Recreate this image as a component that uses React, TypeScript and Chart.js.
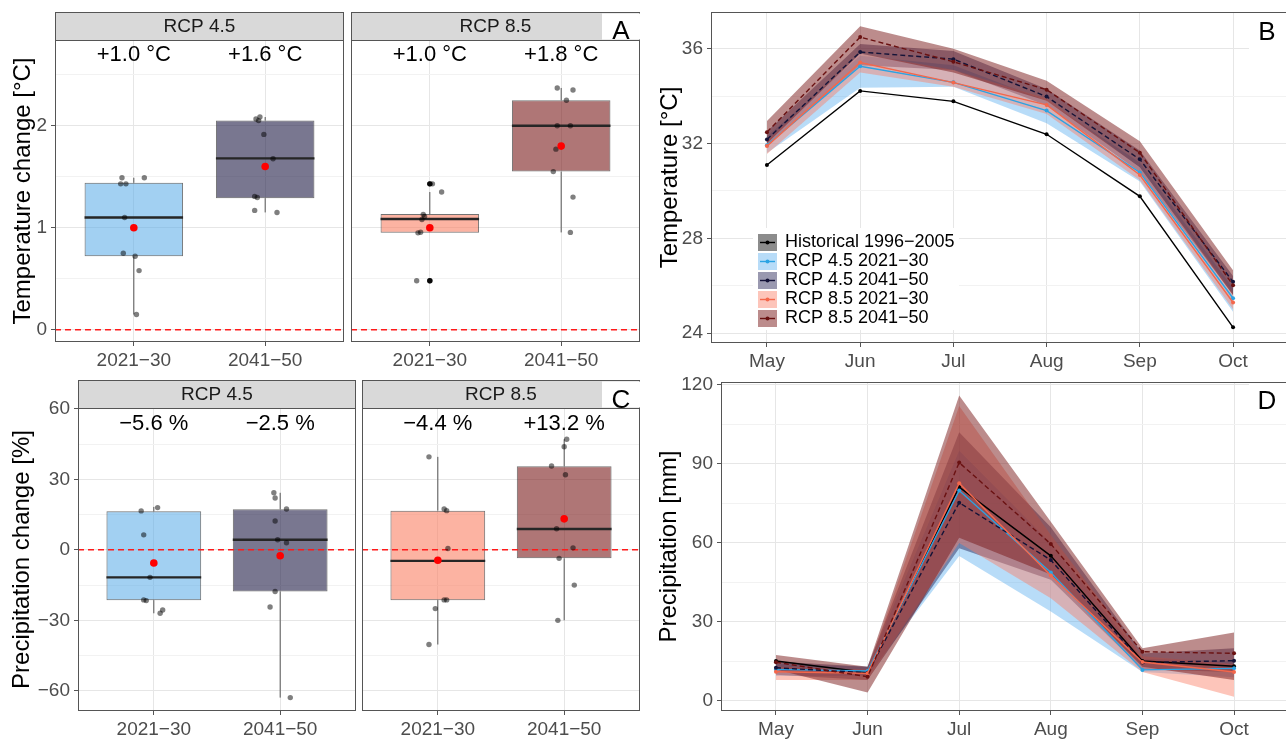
import React, { useEffect, useRef } from "react";
import { Chart, registerables } from "chart.js";
Chart.register(...registerables);

const FONT = '"Liberation Sans", Arial, Helvetica, sans-serif';
Chart.defaults.font.family = FONT;

// ---------------- DATA ----------------
const periods = ["2021\u221230", "2041\u221250"];
const months = ["May", "Jun", "Jul", "Aug", "Sep", "Oct"];
const seriesNames = [
  "Historical 1996\u22122005",
  "RCP 4.5 2021\u221230",
  "RCP 4.5 2041\u221250",
  "RCP 8.5 2021\u221230",
  "RCP 8.5 2041\u221250",
];

// Panel A: temperature change per model (°C) and jitter offsets
const tA45_2130 = [1.49, 1.49, 1.43, 1.43, 1.1, 0.75, 0.72, 0.58, 0.15];
const jA45_2130 = [-0.09, 0.08, -0.1, -0.06, -0.07, -0.08, 0.01, 0.04, 0.02];
const tA45_2041 = [2.065, 2.085, 2.05, 1.915, 1.676, 1.307, 1.297, 1.17, 1.15];
const jA45_2041 = [-0.07, -0.04, -0.05, -0.01, 0.06, -0.08, -0.06, -0.08, 0.09];
const tA85_2130 = [0.48, 0.48, 1.43, 1.43, 1.35, 1.13, 1.11, 1.08, 0.955, 0.95];
const jA85_2130 = [-0.1, 0.0, 0.0, 0.02, 0.09, -0.05, -0.04, -0.06, -0.07, -0.09];
const tA85_2041 = [2.37, 2.35, 2.25, 2.0, 2.0, 1.77, 1.55, 1.3, 0.954];
const jA85_2041 = [-0.03, 0.09, 0.04, 0.07, -0.03, -0.04, -0.06, 0.09, 0.07];
// box stats: [lower whisker, Q1, median, Q3, upper whisker]
const boxA45 = [[0.15, 0.72, 1.1, 1.44, 1.49], [1.15, 1.29, 1.68, 2.05, 2.085]];
const boxA85 = [[0.95, 0.95, 1.085, 1.134, 1.35], [0.954, 1.55, 2.0, 2.25, 2.37]];
const outA45 = [[], []];
const outA85 = [[0.48, 1.43], []];
const meanA45 = [1.0, 1.6];
const meanA85 = [1.0, 1.8];
const labA45 = ["+1.0 \u00b0C", "+1.6 \u00b0C"];
const labA85 = ["+1.0 \u00b0C", "+1.8 \u00b0C"];

// Panel C: precipitation change per model (%)
const pC45_2130 = [16.6, 18.0, 6.4, -11.7, -21.3, -21.6, -25.6, -27.0];
const jC45_2130 = [-0.1, 0.03, -0.08, -0.03, -0.08, -0.06, 0.07, 0.05];
const pC45_2041 = [24.3, 22.1, 17.4, 12.3, 4.3, 3.0, -17.7, -24.3, -62.9];
const jC45_2041 = [-0.05, -0.04, 0.05, -0.04, -0.02, 0.05, -0.04, -0.08, 0.08];
const pC85_2130 = [39.6, 17.4, 16.7, 0.6, -21.3, -21.3, -25.0, -40.3];
const jC85_2130 = [-0.07, 0.05, 0.07, 0.08, 0.05, 0.07, -0.02, -0.07];
const pC85_2041 = [47.1, 43.9, 35.7, 32.0, 9.0, 0.86, -3.6, -15.0, -30.0];
const jC85_2041 = [0.02, 0.0, -0.1, 0.01, -0.06, 0.07, -0.04, 0.08, -0.05];
const boxC45 = [[-27.0, -21.4, -11.7, 16.4, 18.3], [-62.9, -17.7, 4.3, 17.3, 24.3]];
const boxC85 = [[-40.3, -21.4, -4.7, 16.7, 39.6], [-30.0, -3.6, 8.9, 35.6, 47.1]];
const outC45 = [[], []];
const outC85 = [[], []];
const meanC45 = [-5.6, -2.5];
const meanC85 = [-4.4, 13.2];
const labC45 = ["\u22125.6 %", "\u22122.5 %"];
const labC85 = ["\u22124.4 %", "+13.2 %"];

// Panel B: monthly temperature (°C)
const tempHist = [31.09, 34.22, 33.78, 32.39, 29.77, 24.24];
const temp45_2130 = [31.93, 35.26, 34.58, 33.39, 30.78, 25.47];
const temp45_2130Lo = [31.6, 34.35, 34.4, 32.85, 30.4, 24.9];
const temp45_2130Hi = [32.3, 35.7, 35.3, 33.8, 31.2, 25.9];
const temp45_2041 = [32.17, 35.86, 35.56, 33.98, 31.33, 26.16];
const temp45_2041Lo = [31.9, 35.3, 35.1, 33.6, 30.8, 25.6];
const temp45_2041Hi = [32.5, 36.2, 35.9, 34.3, 31.7, 26.4];
const temp85_2130 = [31.89, 35.42, 34.57, 33.63, 30.67, 25.29];
const temp85_2130Lo = [31.55, 35.0, 34.4, 33.25, 30.45, 25.0];
const temp85_2130Hi = [32.1, 35.8, 35.1, 33.9, 31.0, 25.7];
const temp85_2041 = [32.48, 36.49, 35.45, 34.27, 31.61, 26.02];
const temp85_2041Lo = [32.0, 35.8, 35.0, 33.8, 31.0, 25.6];
const temp85_2041Hi = [32.95, 36.95, 36.0, 34.65, 32.1, 26.65];

// Panel D: monthly precipitation (mm)
const precHist = [15.2, 10.8, 81.2, 55.1, 15.2, 13.2];
const prec45_2130 = [12.0, 11.4, 79.9, 48.8, 11.8, 12.4];
const prec45_2130Lo = [9.5, 9.5, 55.0, 34.0, 11.0, 9.0];
const prec45_2130Hi = [14.0, 13.0, 95.0, 60.0, 16.0, 15.0];
const prec45_2041 = [12.6, 10.7, 75.3, 53.5, 14.6, 15.3];
const prec45_2041Lo = [10.0, 8.0, 58.0, 46.0, 12.0, 11.0];
const prec45_2041Hi = [15.0, 13.0, 102.0, 66.0, 18.0, 20.0];
const prec85_2130 = [11.1, 10.5, 82.7, 47.6, 14.8, 11.0];
const prec85_2130Lo = [8.0, 8.0, 60.0, 39.0, 11.0, 1.6];
const prec85_2130Hi = [13.0, 12.0, 112.0, 63.0, 17.0, 14.0];
const prec85_2041 = [14.7, 9.2, 90.5, 59.6, 18.7, 18.1];
const prec85_2041Lo = [12.0, 3.2, 62.0, 48.0, 13.0, 8.0];
const prec85_2041Hi = [17.5, 13.0, 116.0, 68.0, 20.0, 26.0];

// ---------------- STYLE ----------------
const GRID_MAJOR = "#E6E6E6";
const GRID_MINOR = "#F2F2F2";
const BORDER = "#555555";
const TICK_TXT = "#4D4D4D";
const BOX_W = 0.75;
const lineColors = ["#000000", "#2BA3E3", "#141338", "#F4674B", "#6A1111"];
const ribbonFills = [
  "rgba(0,0,0,0.45)",
  "rgba(77,168,238,0.40)",
  "rgba(31,29,79,0.45)",
  "rgba(250,127,101,0.45)",
  "rgba(122,26,26,0.50)",
];
const dashed = [false, false, true, false, true];
const boxFill45 = ["rgba(86,170,232,0.55)", "rgba(31,29,70,0.6)"];
const boxFill85 = ["rgba(250,128,100,0.6)", "rgba(122,26,26,0.6)"];

const minus = (s: string) => s.replace("-", "\u2212");

function gridOpts(majors: number[] | null, drawTicks: boolean) {
  const isMaj = (c: any) => !majors || (c.tick && majors.includes(c.tick.value));
  return {
    color: (c: any) => (isMaj(c) ? GRID_MAJOR : GRID_MINOR),
    tickColor: (c: any) => (isMaj(c) ? BORDER : "rgba(0,0,0,0)"),
    tickLength: 4,
    drawTicks,
    lineWidth: 1,
    offset: false,
  };
}

function yScale(o: any) {
  return {
    type: "linear",
    position: "left",
    min: o.min,
    max: o.max,
    afterBuildTicks: (s: any) => {
      s.ticks = o.ticks.map((v: number) => ({ value: v }));
    },
    afterFit: (s: any) => {
      s.width = o.width;
      s.paddingTop = 0;
      s.paddingBottom = 0;
    },
    ticks: {
      display: o.show,
      autoSkip: false,
      padding: 4,
      color: TICK_TXT,
      font: { size: 19 },
      callback: (v: number) => (o.majors.includes(v) ? minus(String(v)) : ""),
    },
    grid: gridOpts(o.majors, o.show),
    border: { display: false },
    title: o.title
      ? { display: true, text: o.title, color: "#000", font: { size: 24 }, padding: { top: o.titlePad, bottom: 0 } }
      : { display: false },
  };
}

function xScale(labels: string[], height: number) {
  return {
    type: "linear",
    min: 0.4,
    max: labels.length + 0.6,
    offset: false,
    afterBuildTicks: (s: any) => {
      s.ticks = labels.map((_, i) => ({ value: i + 1 }));
    },
    afterFit: (s: any) => {
      s.height = height;
      s.paddingLeft = 0;
      s.paddingRight = 0;
    },
    ticks: {
      autoSkip: false,
      maxRotation: 0,
      minRotation: 0,
      padding: 3,
      color: TICK_TXT,
      font: { size: 19 },
      callback: (v: number) => labels[v - 1] ?? "",
    },
    grid: gridOpts(null, true),
    border: { display: false },
  };
}

function baseOptions(pad: any, x: any, y: any) {
  return {
    responsive: false,
    animation: false,
    devicePixelRatio: 1,
    events: [],
    layout: { padding: pad, autoPadding: false },
    plugins: { legend: { display: false }, tooltip: { enabled: false } },
    scales: { x, y },
  };
}

function facetDecor(strip: string, labels: string[], letter: string | null, letterDy: number, labDy: number) {
  return {
    id: "facetDecor",
    afterDraw(chart: any) {
      const { ctx, chartArea: a, scales } = chart;
      ctx.save();
      ctx.textAlign = "center";
      ctx.textBaseline = "middle";
      ctx.fillStyle = "#000";
      ctx.font = `22px ${FONT}`;
      labels.forEach((t, i) => ctx.fillText(t, scales.x.getPixelForValue(i + 1), a.top + labDy));
      ctx.strokeStyle = BORDER;
      ctx.lineWidth = 1;
      ctx.strokeRect(a.left + 0.5, a.top + 0.5, a.right - a.left - 1, a.bottom - a.top - 1);
      ctx.fillStyle = "#D9D9D9";
      ctx.fillRect(a.left + 0.5, a.top - 27.5, a.right - a.left - 1, 28);
      ctx.strokeRect(a.left + 0.5, a.top - 27.5, a.right - a.left - 1, 28);
      ctx.fillStyle = "#1A1A1A";
      ctx.font = `19px ${FONT}`;
      ctx.fillText(strip, (a.left + a.right) / 2, a.top - 13.5);
      if (letter) {
        ctx.fillStyle = "#fff";
        ctx.fillRect(a.right - 38, a.top - 26.5, 41, 26);
        ctx.fillStyle = "#000";
        ctx.font = `26px ${FONT}`;
        ctx.fillText(letter, a.right - 19, a.top + letterDy);
      }
      ctx.restore();
    },
  };
}

function boxConfig(f: any) {
  const whisk: any[] = [];
  const med: any[] = [];
  f.box.forEach((s: number[], i: number) => {
    const x = i + 1;
    whisk.push({ x, y: s[0] }, { x, y: s[1] }, { x, y: null }, { x, y: s[3] }, { x, y: s[4] }, { x, y: null });
    med.push({ x: x - BOX_W / 2, y: s[2] }, { x: x + BOX_W / 2, y: s[2] }, { x: x + 0.5, y: null });
  });
  const pts: any[] = [];
  f.vals.forEach((arr: number[], i: number) => arr.forEach((v, j) => pts.push({ x: i + 1 + f.jit[i][j], y: v })));
  const outs: any[] = [];
  f.out.forEach((arr: number[], i: number) => arr.forEach((v) => outs.push({ x: i + 1, y: v })));
  const means = f.mean.map((v: number, i: number) => ({ x: i + 1, y: v }));
  return {
    type: "scatter",
    data: {
      datasets: [
        { type: "scatter", data: means, pointBackgroundColor: "#FF0000", pointRadius: 3.8, pointBorderWidth: 0, pointHoverRadius: 0, order: 0 },
        { type: "scatter", data: pts, pointBackgroundColor: "rgba(0,0,0,0.5)", pointRadius: 2.7, pointBorderWidth: 0, pointHoverRadius: 0, order: 1 },
        { type: "scatter", data: outs, pointBackgroundColor: "#111111", pointRadius: 2.7, pointBorderWidth: 0, pointHoverRadius: 0, order: 1 },
        { type: "line", data: med, borderColor: "#262626", borderWidth: 2.4, pointRadius: 0, showLine: true, spanGaps: false, fill: false, order: 2 },
        {
          type: "line",
          data: [{ x: 0.4, y: 0 }, { x: 2.6, y: 0 }],
          borderColor: "#FF1A1A",
          borderWidth: 1.5,
          borderDash: [6, 4],
          pointRadius: 0,
          showLine: true,
          fill: false,
          order: 2,
        },
        {
          type: "bar",
          data: f.box.map((s: number[], i: number) => ({ x: i + 1, y: [s[1], s[3]] })),
          backgroundColor: f.fills,
          borderColor: "rgba(40,40,40,0.65)",
          borderWidth: 1,
          borderSkipped: false,
          barPercentage: BOX_W,
          categoryPercentage: 1,
          order: 3,
        },
        { type: "line", data: whisk, borderColor: "#555555", borderWidth: 1, pointRadius: 0, showLine: true, spanGaps: false, fill: false, order: 4 },
      ],
    },
    options: baseOptions(f.pad, xScale(periods, f.xHeight), f.y),
    plugins: [facetDecor(f.strip, f.labels, f.letter, f.letterDy, f.labDy)],
  };
}

const toXY = (arr: number[]) => arr.map((v, i) => ({ x: i + 1, y: v }));

function lineDecor(letter: string, boxH: number, letterDy: number, legend: boolean) {
  return {
    id: "lineDecor",
    afterDraw(chart: any) {
      const { ctx, chartArea: a } = chart;
      ctx.save();
      ctx.fillStyle = "#fff";
      ctx.fillRect(a.right - 40, a.top + 1, 46, boxH);
      ctx.fillStyle = "#000";
      ctx.font = `26px ${FONT}`;
      ctx.textAlign = "center";
      ctx.textBaseline = "middle";
      ctx.fillText(letter, a.right - 22, a.top + letterDy);
      if (legend) {
        const x0 = a.left + 42;
        const y0 = a.top + 216;
        ctx.fillStyle = "#fff";
        ctx.fillRect(x0, y0, 206, 102);
        seriesNames.forEach((name, i) => {
          const cy = y0 + 14.5 + i * 19;
          ctx.fillStyle = ribbonFills[i];
          ctx.fillRect(x0 + 5, cy - 8.5, 19, 17);
          ctx.strokeStyle = lineColors[i];
          ctx.lineWidth = 1.4;
          ctx.beginPath();
          ctx.moveTo(x0 + 7, cy);
          ctx.lineTo(x0 + 22, cy);
          ctx.stroke();
          ctx.fillStyle = lineColors[i];
          ctx.beginPath();
          ctx.arc(x0 + 14.5, cy, 2, 0, Math.PI * 2);
          ctx.fill();
          ctx.fillStyle = "#000";
          ctx.font = `18px ${FONT}`;
          ctx.textAlign = "left";
          ctx.fillText(name, x0 + 32, cy);
        });
      }
      ctx.strokeStyle = BORDER;
      ctx.lineWidth = 1;
      ctx.strokeRect(a.left + 0.5, a.top + 0.5, a.right - a.left - 1, a.bottom - a.top - 1);
      ctx.restore();
    },
  };
}

function lineConfig(o: any) {
  const datasets: any[] = [];
  const ribbonOrder = [0, 14, 13, 12, 11];
  for (let k = 1; k < 5; k++) {
    datasets.push({
      type: "line",
      data: toXY(o.lo[k]),
      borderWidth: 0,
      borderColor: "rgba(0,0,0,0)",
      pointRadius: 0,
      showLine: true,
      fill: false,
      order: ribbonOrder[k],
    });
    datasets.push({
      type: "line",
      data: toXY(o.hi[k]),
      borderWidth: 0,
      borderColor: "rgba(0,0,0,0)",
      backgroundColor: ribbonFills[k],
      pointRadius: 0,
      showLine: true,
      fill: "-1",
      order: ribbonOrder[k],
    });
  }
  for (let k = 0; k < 5; k++) {
    datasets.push({
      type: "line",
      data: toXY(o.mean[k]),
      borderColor: lineColors[k],
      borderWidth: 1.4,
      borderDash: dashed[k] ? [5, 3] : [],
      pointRadius: 2,
      pointBackgroundColor: lineColors[k],
      pointBorderWidth: 0,
      pointHoverRadius: 0,
      showLine: true,
      fill: false,
      tension: 0,
      order: 5 - k,
    });
  }
  return {
    type: "scatter",
    data: { datasets },
    options: baseOptions(o.pad, xScale(months, o.xHeight), o.y),
    plugins: [lineDecor(o.letter, o.boxH, o.letterDy, o.legend)],
  };
}

// ---------------- CONFIGS ----------------
const cfgA45 = () =>
  boxConfig({
    box: boxA45, mean: meanA45, out: outA45, vals: [tA45_2130, tA45_2041], jit: [jA45_2130, jA45_2041],
    fills: boxFill45, labels: labA45, strip: "RCP 4.5", letter: null, letterDy: 0, labDy: 15,
    y: yScale({ min: -0.12, max: 2.84, ticks: [0, 0.5, 1, 1.5, 2, 2.5], majors: [0, 1, 2], width: 55, show: true, title: "Temperature change [\u00b0C]", titlePad: 8.6 }),
    xHeight: 33, pad: { top: 40, right: 3, left: 0, bottom: 0 },
  });
const cfgA85 = () =>
  boxConfig({
    box: boxA85, mean: meanA85, out: outA85, vals: [tA85_2130, tA85_2041], jit: [jA85_2130, jA85_2041],
    fills: boxFill85, labels: labA85, strip: "RCP 8.5", letter: "A", letterDy: -8, labDy: 15,
    y: yScale({ min: -0.12, max: 2.84, ticks: [0, 0.5, 1, 1.5, 2, 2.5], majors: [0, 1, 2], width: 6, show: false }),
    xHeight: 33, pad: { top: 40, right: 10, left: 0, bottom: 0 },
  });
const cTicks = [-60, -45, -30, -15, 0, 15, 30, 45, 60];
const cMajors = [-60, -30, 0, 30, 60];
const cfgC45 = () =>
  boxConfig({
    box: boxC45, mean: meanC45, out: outC45, vals: [pC45_2130, pC45_2041], jit: [jC45_2130, jC45_2041],
    fills: boxFill45, labels: labC45, strip: "RCP 4.5", letter: null, letterDy: 0, labDy: 15.5,
    y: yScale({ min: -68.6, max: 60.4, ticks: cTicks, majors: cMajors, width: 78, show: true, title: "Precipitation change [%]", titlePad: 8 }),
    xHeight: 28, pad: { top: 43, right: 3, left: 0, bottom: 0 },
  });
const cfgC85 = () =>
  boxConfig({
    box: boxC85, mean: meanC85, out: outC85, vals: [pC85_2130, pC85_2041], jit: [jC85_2130, jC85_2041],
    fills: boxFill85, labels: labC85, strip: "RCP 8.5", letter: "C", letterDy: -7.5, labDy: 15.5,
    y: yScale({ min: -68.6, max: 60.4, ticks: cTicks, majors: cMajors, width: 3, show: false }),
    xHeight: 28, pad: { top: 43, right: 10, left: 0, bottom: 0 },
  });
const cfgB = () =>
  lineConfig({
    mean: [tempHist, temp45_2130, temp45_2041, temp85_2130, temp85_2041],
    lo: [null, temp45_2130Lo, temp45_2041Lo, temp85_2130Lo, temp85_2041Lo],
    hi: [null, temp45_2130Hi, temp45_2041Hi, temp85_2130Hi, temp85_2041Hi],
    y: yScale({ min: 23.58, max: 37.55, ticks: [24, 26, 28, 30, 32, 34, 36], majors: [24, 28, 32, 36], width: 61, show: true, title: "Temperature [\u00b0C]", titlePad: 5.6 }),
    xHeight: 37, pad: { top: 12, right: 1, left: 0, bottom: 0 },
    letter: "B", boxH: 44, letterDy: 21, legend: true,
  });
const cfgD = () =>
  lineConfig({
    mean: [precHist, prec45_2130, prec45_2041, prec85_2130, prec85_2041],
    lo: [null, prec45_2130Lo, prec45_2041Lo, prec85_2130Lo, prec85_2041Lo],
    hi: [null, prec45_2130Hi, prec45_2041Hi, prec85_2130Hi, prec85_2041Hi],
    y: yScale({ min: -3.8, max: 121.1, ticks: [0, 15, 30, 45, 60, 75, 90, 105, 120], majors: [0, 30, 60, 90, 120], width: 71, show: true, title: "Precipitation [mm]", titlePad: 5 }),
    xHeight: 28, pad: { top: 10, right: 1, left: 0, bottom: 0 },
    letter: "D", boxH: 32, letterDy: 20, legend: false,
  });

function ChartBox({ left, top, w, h, make }: { left: number; top: number; w: number; h: number; make: () => any }) {
  const ref = useRef<HTMLCanvasElement>(null);
  useEffect(() => {
    const chart = new Chart(ref.current as HTMLCanvasElement, make());
    return () => chart.destroy();
  }, []);
  return (
    <div style={{ position: "absolute", left, top, width: w, height: h }}>
      <canvas ref={ref} width={w} height={h} style={{ width: w, height: h, display: "block" }} />
    </div>
  );
}

export default function App() {
  return (
    <div style={{ position: "fixed", left: 0, top: 0, width: 1286, height: 739, overflow: "hidden", background: "#fff" }}>
      <ChartBox left={0} top={0} w={347} h={375} make={cfgA45} />
      <ChartBox left={345} top={0} w={305} h={375} make={cfgA85} />
      <ChartBox left={0} top={365} w={359} h={374} make={cfgC45} />
      <ChartBox left={359} top={365} w={291} h={374} make={cfgC85} />
      <ChartBox left={650} top={0} w={640} h={380} make={cfgB} />
      <ChartBox left={650} top={372} w={640} h={367} make={cfgD} />
    </div>
  );
}
